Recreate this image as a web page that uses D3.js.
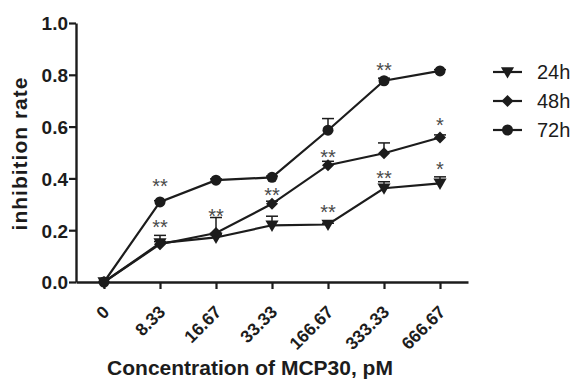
<!DOCTYPE html>
<html>
<head>
<meta charset="utf-8">
<script src="https://cdn.jsdelivr.net/npm/d3@7"></script>
<style>
  body { margin: 0; background: #fff; }
  text { font-family: "Liberation Sans", Arial, sans-serif; }
</style>
</head>
<body>
<div id="app"></div>
<script>
const WIDTH = 574;
const HEIGHT = 379;

const categories = ["0", "8.33", "16.67", "33.33", "166.67", "333.33", "666.67"];
const yTicks = [0, 0.2, 0.4, 0.6, 0.8, 1.0];

const series = ["24h", "48h", "72h"];
const values24 = [0, 0.15, 0.172, 0.219, 0.222, 0.362, 0.381];
const errors24 = [0, 0.03, 0.01, 0.035, 0.005, 0.025, 0.025];
const values48 = [0, 0.146, 0.189, 0.302, 0.451, 0.497, 0.558];
const errors48 = [0, 0.01, 0.06, 0.01, 0.015, 0.04, 0.01];
const values72 = [0, 0.309, 0.393, 0.404, 0.586, 0.777, 0.815];
const errors72 = [0, 0.005, 0.005, 0.005, 0.045, 0.01, 0.005];

// significance marks: category index, level (data units), text
const starCats = [1, 1, 2, 3, 4, 4, 5, 5, 6, 6];
const starLevels = [0.385, 0.228, 0.27, 0.35, 0.5, 0.285, 0.835, 0.418, 0.62, 0.45];
const starTexts = ["**", "**", "**", "**", "**", "**", "**", "**", "*", "*"];

const margin = { left: 76, right: 106, top: 23, bottom: 97 };

const x = d3.scaleLinear()
  .domain([-0.5, 6.5])
  .range([margin.left, WIDTH - margin.right]);
const y = d3.scaleLinear()
  .domain([0, 1])
  .range([HEIGHT - margin.bottom, margin.top]);

const svg = d3.select("#app").append("svg")
  .attr("width", WIDTH)
  .attr("height", HEIGHT);

const INK = "#1c1c1c";

// axes
const xAxis = svg.append("g")
  .attr("transform", `translate(0,${y(0)})`)
  .call(d3.axisBottom(x).tickValues(d3.range(categories.length)).tickFormat((i) => categories[i]).tickSize(7).tickSizeOuter(0));
xAxis.select(".domain").attr("stroke", INK).attr("stroke-width", 2.4);
xAxis.selectAll(".tick line").attr("stroke", INK).attr("stroke-width", 2.2);
xAxis.selectAll(".tick text")
  .attr("fill", INK)
  .style("font-size", "17.5px")
  .style("font-weight", "bold")
  .attr("text-anchor", "end")
  .attr("dx", "0")
  .attr("dy", "0")
  .attr("y", 0)
  .attr("transform", "translate(6,31) rotate(-45)");

const yAxis = svg.append("g")
  .attr("transform", `translate(${margin.left},0)`)
  .call(d3.axisLeft(y).tickValues(yTicks).tickFormat(d3.format(".1f")).tickSize(7).tickSizeOuter(0));
yAxis.select(".domain").attr("stroke", INK).attr("stroke-width", 2.4);
yAxis.selectAll(".tick line").attr("stroke", INK).attr("stroke-width", 2.2);
yAxis.selectAll(".tick text")
  .attr("fill", INK)
  .attr("x", -8)
  .attr("dy", "0.36em")
  .style("font-size", "19px")
  .style("font-weight", "bold");

// titles
svg.append("text")
  .attr("x", 250)
  .attr("y", 375)
  .attr("text-anchor", "middle")
  .attr("fill", INK)
  .style("font-size", "21px")
  .style("font-weight", "bold")
  .text("Concentration of MCP30, pM");

svg.append("text")
  .attr("transform", `translate(27,${(y(0) + y(1)) / 2 + 1}) rotate(-90)`)
  .attr("text-anchor", "middle")
  .attr("fill", INK)
  .style("font-size", "21px")
  .style("letter-spacing", "1px")
  .style("font-weight", "bold")
  .text("inhibition rate");

const symbols = [d3.symbolTriangle, d3.symbolSquare, d3.symbolCircle];
const symbolSizes = [75, 72, 95];
const symbolRot = [180, 45, 0];
const allValues = [values24, values48, values72];
const allErrors = [errors24, errors48, errors72];

const line = d3.line().x((d, i) => x(i)).y((d) => y(d));

series.forEach((name, s) => {
  const g = svg.append("g");
  const vals = allValues[s];
  const errs = allErrors[s];

  // error bars (upper only)
  vals.forEach((v, i) => {
    if (errs[i] <= 0.004) return;
    g.append("line")
      .attr("x1", x(i)).attr("x2", x(i))
      .attr("y1", y(v)).attr("y2", y(v + errs[i]))
      .attr("stroke", INK).attr("stroke-width", 1.5);
    g.append("line")
      .attr("x1", x(i) - 6).attr("x2", x(i) + 6)
      .attr("y1", y(v + errs[i])).attr("y2", y(v + errs[i]))
      .attr("stroke", INK).attr("stroke-width", 1.5);
  });

  g.append("path")
    .datum(vals)
    .attr("d", line)
    .attr("fill", "none")
    .attr("stroke", INK)
    .attr("stroke-width", 2.2);

  g.selectAll("path.marker")
    .data(vals)
    .join("path")
    .attr("class", "marker")
    .attr("d", d3.symbol().type(symbols[s]).size(symbolSizes[s]))
    .attr("transform", (d, i) => `translate(${x(i)},${y(d) + (s === 0 ? -1 : 0)}) rotate(${symbolRot[s]})`)
    .attr("fill", INK);
});

// significance stars
svg.append("g")
  .selectAll("text")
  .data(starTexts)
  .join("text")
  .attr("x", (d, i) => x(starCats[i]))
  .attr("y", (d, i) => y(starLevels[i]) + 11)
  .attr("text-anchor", "middle")
  .attr("fill", "#4a4a4a")
  .style("font-size", "20px")
  .text((d) => d);

// legend
const legend = svg.append("g").attr("transform", "translate(493,72)");
series.forEach((name, s) => {
  const row = legend.append("g").attr("transform", `translate(0,${s * 29})`);
  row.append("line")
    .attr("x1", 0).attr("x2", 29)
    .attr("stroke", INK).attr("stroke-width", 2.2);
  row.append("path")
    .attr("d", d3.symbol().type(symbols[s]).size(symbolSizes[s]))
    .attr("transform", `translate(14.5,${s === 0 ? -1 : 0}) rotate(${symbolRot[s]})`)
    .attr("fill", INK);
  row.append("text")
    .attr("x", 44)
    .attr("y", 7)
    .attr("fill", INK)
    .style("font-size", "20px")
    .text(name);
});
</script>
</body>
</html>
